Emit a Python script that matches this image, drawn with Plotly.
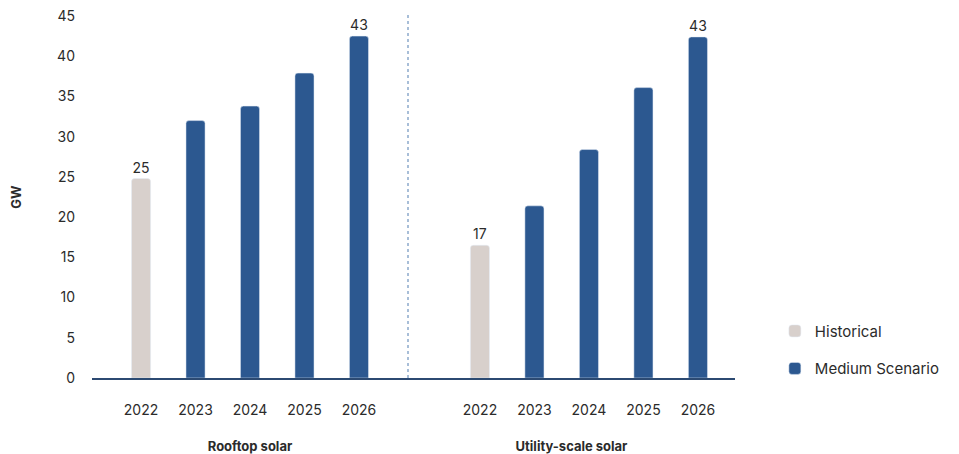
import plotly.graph_objects as go

years = ["2022", "2023", "2024", "2025", "2026"]
rooftop = [24.8, 32.0, 33.8, 37.9, 42.5]
utility = [16.5, 21.4, 28.4, 36.1, 42.4]
rooftop_labels = ["25", "", "", "", "43"]
utility_labels = ["17", "", "", "", "43"]
groups = ["Rooftop solar", "Utility-scale solar"]
series_names = ["Historical", "Medium Scenario"]
y_ticks = [0, 5, 10, 15, 20, 25, 30, 35, 40, 45]

HIST = "#d8d0cc"
MED = "#2c5890"
TXT = "#2b2b2b"
FONT = "Inter"

fig = go.Figure()

for i, (vals, labs, xa) in enumerate([(rooftop, rooftop_labels, "x"), (utility, utility_labels, "x2")]):
    fig.add_trace(go.Bar(
        x=years[:1], y=vals[:1], text=labs[:1], textposition="outside",
        textfont=dict(size=14, color=TXT, family=FONT),
        marker_color=HIST, name=series_names[0], legendgroup="h",
        showlegend=(i == 0), xaxis=xa, yaxis="y", width=0.35, cliponaxis=False,
    ))
    fig.add_trace(go.Bar(
        x=years[1:], y=vals[1:], text=labs[1:], textposition="outside",
        textfont=dict(size=14, color=TXT, family=FONT),
        marker_color=MED, name=series_names[1], legendgroup="m",
        showlegend=(i == 0), xaxis=xa, yaxis="y", width=0.35, cliponaxis=False,
    ))

split = (408 - 92) / 643

xcommon = dict(type="category", showline=True, linecolor="#2c4a72", linewidth=1.5,
               ticks="", showgrid=False, zeroline=False, ticklabelstandoff=18,
               automargin=False, ticklabeloverflow="allow",
               tickfont=dict(size=14, color=TXT, family=FONT))

fig.update_layout(
    width=951, height=446,
    margin=dict(l=84, r=224, t=8, b=76),
    paper_bgcolor="white", plot_bgcolor="white",
    barmode="overlay", barcornerradius=3,
    font=dict(family=FONT, color=TXT),
    xaxis=dict(domain=[0, split], range=[-0.9, 4.9], anchor="y",
               title=dict(text="<b>" + groups[0] + "</b>", font=dict(size=13, color=TXT), standoff=26),
               **xcommon),
    xaxis2=dict(domain=[split, 1], range=[-1.32, 4.68], anchor="y",
                title=dict(text="<b>" + groups[1] + "</b>", font=dict(size=13, color=TXT), standoff=26),
                **xcommon),
    yaxis=dict(range=[0, 45], tickvals=y_ticks, showgrid=False, zeroline=False,
               showline=False, ticks="", ticklabelstandoff=16, automargin=False,
               ticklabeloverflow="allow",
               tickfont=dict(size=14, color=TXT, family=FONT),
               title=dict(text="<b>GW</b>", font=dict(size=13, color=TXT), standoff=32)),
    legend=dict(x=1.062, y=0.175, xanchor="left", yanchor="top",
                font=dict(size=15, color=TXT, family=FONT), tracegroupgap=15,
                bgcolor="rgba(0,0,0,0)"),
    shapes=[dict(type="line", xref="paper", yref="paper", x0=split, x1=split, y0=0, y1=1.005,
                 line=dict(color="#6f93bf", width=1.2, dash="dot"))],
)

fig.write_html("out.html")
